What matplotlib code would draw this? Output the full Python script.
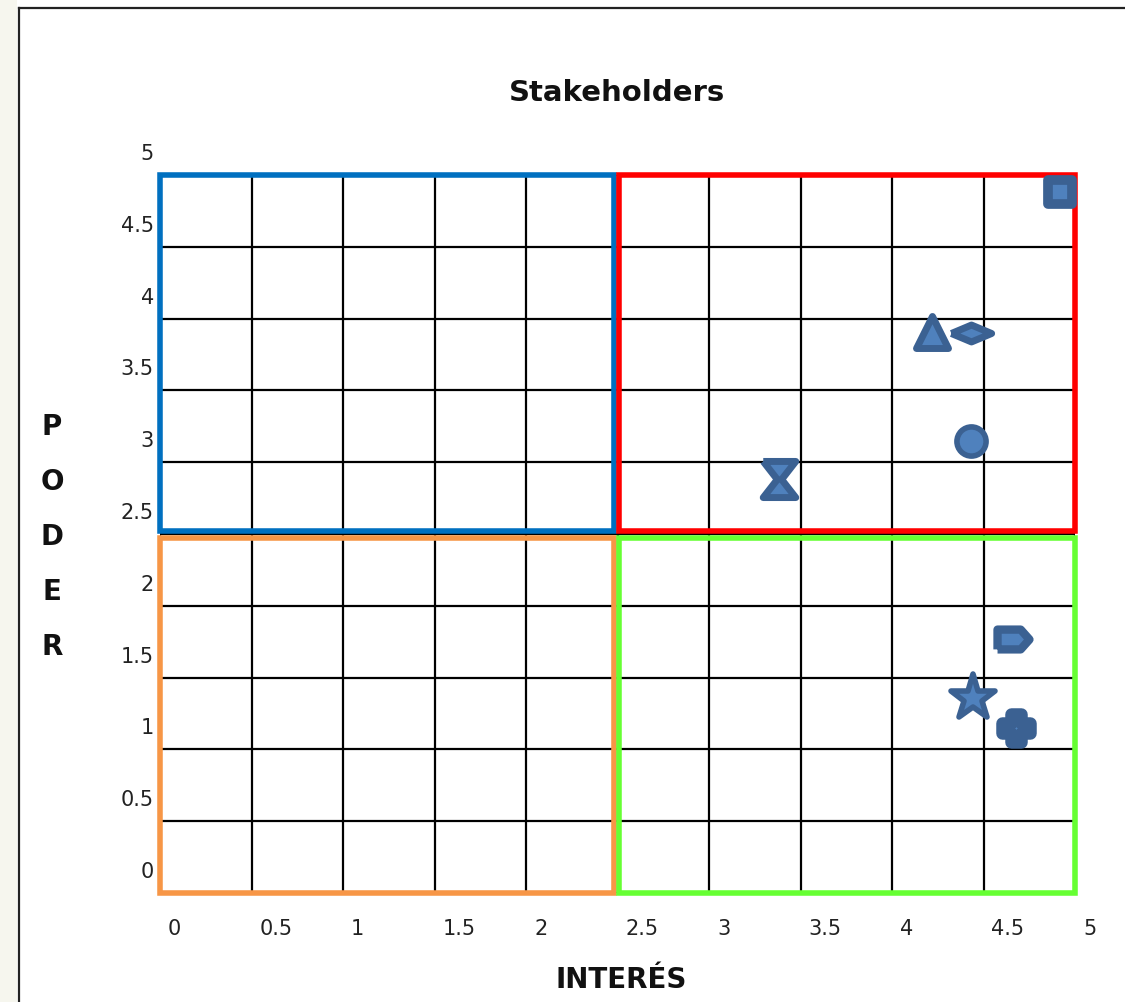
"""Stakeholder power/interest grid (Poder vs Interés)."""
import matplotlib
matplotlib.use("Agg")
import matplotlib.pyplot as plt
from matplotlib.patches import Rectangle
from matplotlib.lines import Line2D
from matplotlib.markers import MarkerStyle
from matplotlib.transforms import ScaledTranslation

# --- data -------------------------------------------------------------------
TICKS = [0, 0.5, 1, 1.5, 2, 2.5, 3, 3.5, 4, 4.5, 5]
TICK_LABELS = ["0", "0.5", "1", "1.5", "2", "2.5", "3", "3.5", "4", "4.5", "5"]

interes = [4.92, 4.22, 4.43, 4.43, 3.38, 4.66, 4.44, 4.68]
poder = [4.88, 3.91, 3.90, 3.15, 2.88, 1.77, 1.36, 1.15]

# marker shapes (Excel-like)
DIAMOND = [(-1, 0), (0, 0.42), (1, 0), (0, -0.42), (-1, 0)]
HOURGLASS = [(-0.9, 1), (0.9, 1), (0.12, 0), (0.9, -1), (-0.9, -1), (-0.12, 0), (-0.9, 1)]
TAG = [(-1, -0.62), (0.45, -0.62), (1, 0), (0.45, 0.62), (-1, 0.62), (-1, -0.62)]
markers = ["s", "^", DIAMOND, "o", HOURGLASS, TAG, "*", "P"]
sizes = [17, 23, 29, 21, 26, 23, 34, 20]
edges = [7, 5, 5, 4, 5, 6, 4, 9]

FACE = "#4f81bd"
EDGE = "#3b6192"

W, H = 1125, 1002
fig = plt.figure(figsize=(W / 100, H / 100), dpi=100)
fig.patch.set_facecolor("white")

# left beige strip + black frame
fig.patches.append(Rectangle((0, 0), 17 / W, 1, transform=fig.transFigure,
                             facecolor="#f6f6ee", edgecolor="none", zorder=0))
fig.lines.append(Line2D([19 / W, 19 / W], [0, 1 - 8 / H], transform=fig.transFigure,
                        color="#222222", lw=1.6))
fig.lines.append(Line2D([19 / W, 1], [1 - 8 / H, 1 - 8 / H], transform=fig.transFigure,
                        color="#222222", lw=1.6))

ax = fig.add_axes([160 / W, 1 - 893 / H, (1075 - 160) / W, (893 - 175) / H])
ax.set_xlim(0, 5)
ax.set_ylim(0, 5)
for s in ax.spines.values():
    s.set_visible(False)

ax.set_xticks(TICKS)
ax.set_yticks(TICKS)
ax.set_xticklabels([])
ax.set_yticklabels([])
ax.tick_params(length=0)
ax.grid(True, color="black", lw=1.6)
ax.set_axisbelow(True)

# tick labels, placed like the original (shifted off the grid lines)
px = fig.dpi_scale_trans
for t, lab in zip(TICKS, TICK_LABELS):
    ax.text(t, 0, lab, transform=ax.get_xaxis_transform() + ScaledTranslation(8 / 100, -26 / 100, px),
            ha="left", va="top", fontsize=15, color="#222222")
    ax.text(0, t, lab, transform=ax.get_yaxis_transform() + ScaledTranslation(-6 / 100, 21 / 100, px),
            ha="right", va="center", fontsize=15, color="#222222")

# quadrants
quads = [
    ((0, 2.52), 2.48, 2.48, "#0070c0"),
    ((2.51, 2.52), 2.49, 2.48, "#ff0000"),
    ((0, 0), 2.48, 2.47, "#f79646"),
    ((2.51, 0), 2.49, 2.47, "#66ff33"),
]
for (x0, y0), w, h, c in quads:
    ax.add_patch(Rectangle((x0, y0), w, h, fill=False, edgecolor=c, lw=4,
                           clip_on=False, zorder=3))

# stakeholders
for x, y, m, s, e in zip(interes, poder, markers, sizes, edges):
    ax.plot(x, y, marker=MarkerStyle(m, joinstyle="round"), ms=s, mfc=FACE, mec=EDGE,
            mew=e, ls="none", clip_on=False, zorder=5)

fig.text(617 / W, 1 - 93 / H, "Stakeholders", ha="center", va="center",
         fontsize=21, fontweight="bold", color="#111111")
fig.text(621 / W, 1 - 980 / H, "INTERÉS", ha="center", va="center",
         fontsize=20, fontweight="bold", color="#111111")
for i, ch in enumerate("PODER"):
    fig.text(52 / W, 1 - (427 + 55 * i) / H, ch, ha="center", va="center",
             fontsize=20, fontweight="bold", color="#111111")

fig.savefig("out.png", dpi=100)
